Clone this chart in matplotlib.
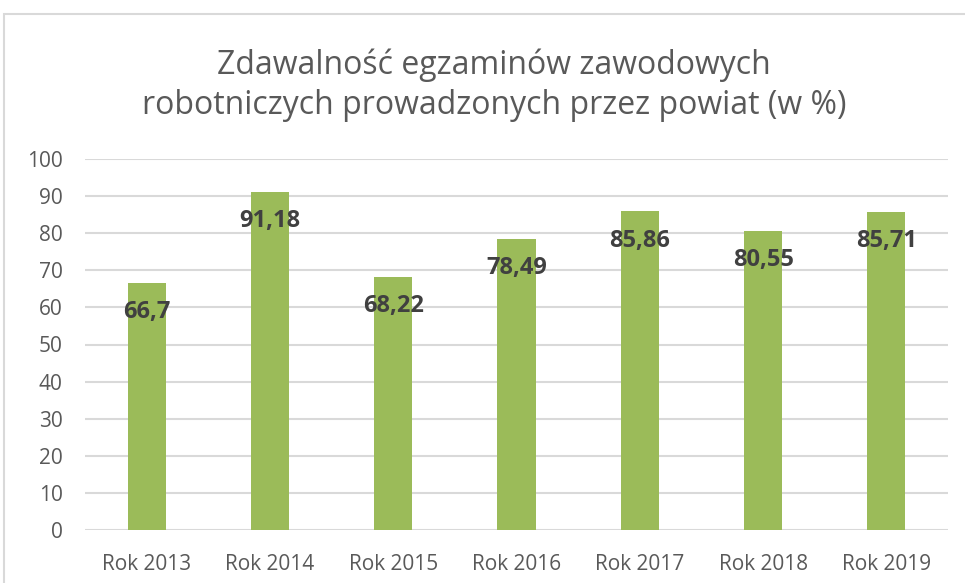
import matplotlib.pyplot as plt
from matplotlib.patches import Rectangle

years = ["Rok 2013", "Rok 2014", "Rok 2015", "Rok 2016", "Rok 2017", "Rok 2018", "Rok 2019"]
pass_rate = [66.7, 91.18, 68.22, 78.49, 85.86, 80.55, 85.71]
value_labels = ["66,7", "91,18", "68,22", "78,49", "85,86", "80,55", "85,71"]

plt.rcParams['font.family'] = ['Open Sans', 'DejaVu Sans']
text_gray = "#595959"

fig = plt.figure(figsize=(9.65, 5.83), dpi=100)
ax = fig.add_axes([85 / 965, 53 / 583, 863 / 965, 371 / 583])

x = list(range(len(years)))
ax.bar(x, pass_rate, width=0.31, color="#9BBB59", zorder=2)

for xi, v, lab in zip(x, pass_rate, value_labels):
    ax.annotate(lab, (xi, v), xytext=(0, -21), textcoords="offset points",
                ha="center", va="center", fontsize=17, fontweight="bold",
                color="#404040", zorder=3)

ax.set_xlim(-0.5, len(years) - 0.5)
ax.set_ylim(0, 100)
ax.set_yticks(range(0, 101, 10))
ax.set_xticks(x)
ax.set_xticklabels(years)
ax.tick_params(axis="both", length=0, colors=text_gray, labelsize=15)
ax.tick_params(axis="x", pad=17)
ax.tick_params(axis="y", pad=16)
ax.grid(axis="y", color="#D9D9D9", linewidth=1.5, zorder=0)
for s in ax.spines.values():
    s.set_visible(False)

fig.text(494 / 965, 1 - 85 / 583,
         "Zdawalność egzaminów zawodowych\nrobotniczych prowadzonych przez powiat (w %)",
         ha="center", va="center", fontsize=23, color=text_gray, linespacing=1.3)

# chart frame, cut off on the right and bottom
fig.patches.append(Rectangle((4 / 965, -0.1), 1.2, 1.1 - 14 / 583,
                             transform=fig.transFigure, fill=False,
                             edgecolor="#D9D9D9", linewidth=1.5, clip_on=False))

fig.savefig("out.png", dpi=100)
